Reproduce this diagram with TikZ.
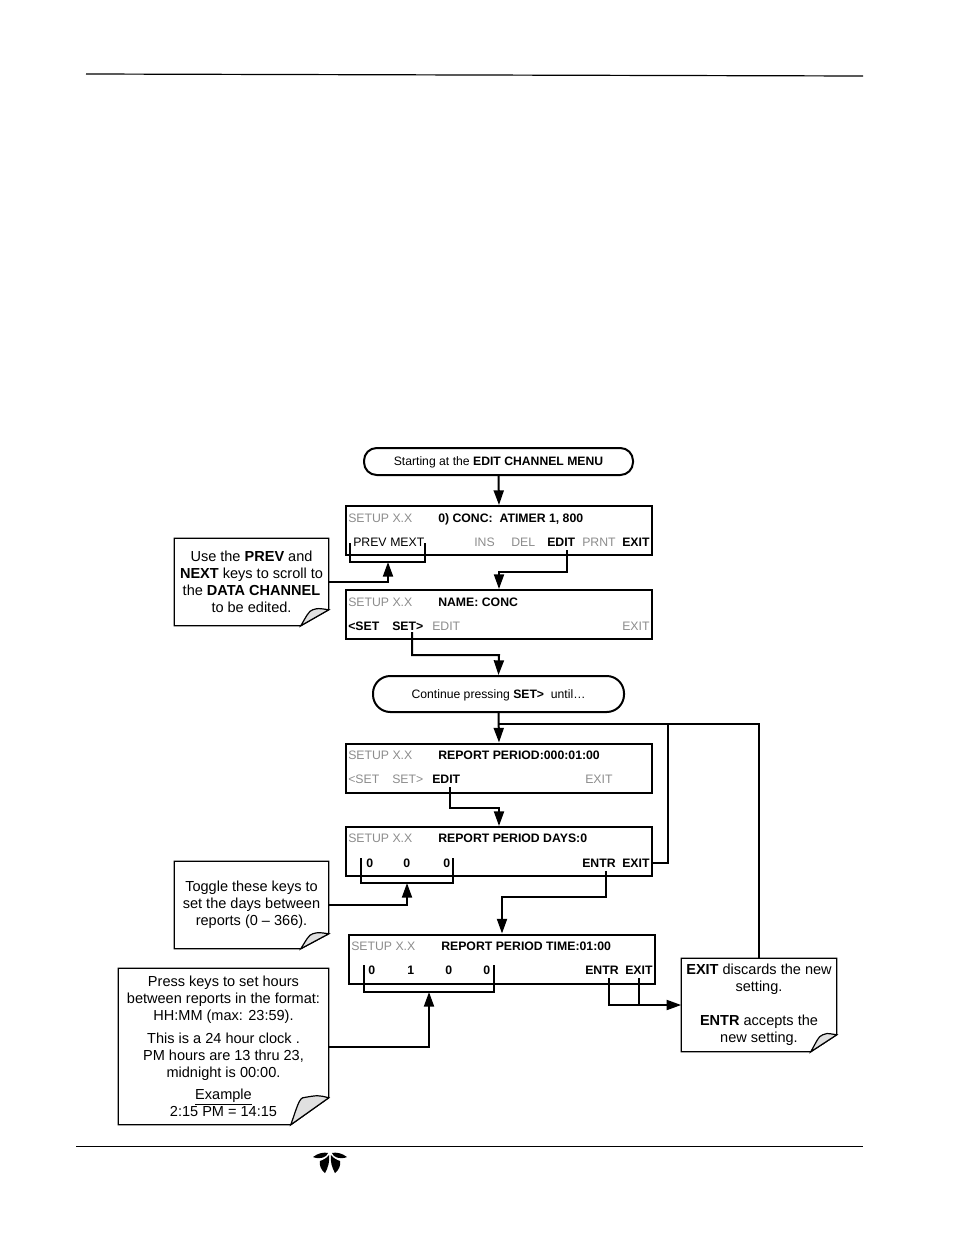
\documentclass[tikz,border=0pt]{standalone}
\usepackage{fontspec}
\setmainfont{Liberation Sans}
\usetikzlibrary{arrows.meta}
\definecolor{keygray}{gray}{0.55}
\definecolor{foldgray}{gray}{0.88}
\tikzset{
  lcdbox/.style={draw, line width=1.5pt, minimum width=229.5pt, minimum height=36.75pt, inner sep=0pt},
  startbox/.style={draw, line width=1.5pt, rounded corners=9.5pt, inner sep=0pt, text depth=0pt, font=\fontsize{9.15}{11}\selectfont},
  notebox/.style={inner sep=0pt, align=center, font=\fontsize{10.9}{12.75}\selectfont},
  keydim/.style={anchor=base west, inner sep=0pt, text=keygray, font=\fontsize{9.2}{11}\selectfont},
  keyon/.style={anchor=base west, inner sep=0pt, font=\fontsize{9.2}{11}\selectfont\bfseries},
  keyplain/.style={anchor=base west, inner sep=0pt, font=\fontsize{9.2}{11}\selectfont},
  flowline/.style={line width=1.5pt},
  flowarrow/.style={line width=1.5pt, -{Triangle[length=11pt,width=7.5pt]}},
  keybracket/.style={line width=1pt}
}
\newcommand{\notefold}[3]{
  \draw [line width=0.9pt] (#1.north west) -- (#1.north east) -- ([yshift=#3]#1.south east)
    -- ([xshift=-#2]#1.south east) -- (#1.south west) -- cycle;
  \draw [line width=0.9pt, fill=foldgray] ([xshift=-#2]#1.south east)
    .. controls ([xshift=-#2+4pt,yshift=#3*0.55]#1.south east) and ([xshift=-#2+6pt,yshift=#3*0.95]#1.south east)
    .. ([xshift=-#2+9pt,yshift=#3]#1.south east)
    .. controls ([xshift=-8pt,yshift=#3*1.1]#1.south east) .. ([yshift=#3]#1.south east) -- cycle;
}
\begin{document}
\begin{tikzpicture}[x=0.75pt,y=-0.75pt]
\useasboundingbox (0,0) rectangle (954,1235);

% page rules
\coordinate (ruleTopA) at (86,74);
\coordinate (ruleTopB) at (863,76);
\coordinate (ruleBotA) at (76,1146);
\coordinate (ruleBotB) at (863,1146);
\draw [line width=0.9pt] (ruleTopA) -- (ruleTopB);
\draw [line width=0.6pt] (ruleBotA) -- (ruleBotB);

% logo
\fill (313,1157) .. controls (318,1153) and (324,1152) .. (328,1153) .. controls (327,1157) and (320,1160) .. (313,1157) -- cycle;
\fill (347,1157) .. controls (342,1153) and (336,1152) .. (332,1153) .. controls (333,1157) and (340,1160) .. (347,1157) -- cycle;
\fill (320,1161) .. controls (323,1160) and (327,1158) .. (329,1155) .. controls (330,1161) and (328,1168) .. (325,1173) .. controls (321,1170) and (319,1165) .. (320,1161) -- cycle;
\fill (340,1161) .. controls (337,1160) and (333,1158) .. (331,1155) .. controls (330,1161) and (332,1168) .. (335,1173) .. controls (339,1170) and (341,1165) .. (340,1161) -- cycle;

% boxes
\node [startbox, minimum width=201.75pt, minimum height=20.25pt] (start) at (498.5,461.5) {Starting at the \textbf{EDIT CHANNEL MENU}};
\node [lcdbox] (lcdA) at (499,530.5) {};
\node [lcdbox] (lcdB) at (499,614.5) {};
\node [startbox, rounded corners=13pt, minimum width=188.25pt, minimum height=27pt] (cont) at (498.5,694) {Continue pressing \textbf{SET>} \ until…};
\node [lcdbox] (lcdC) at (499,768) {};
\node [lcdbox] (lcdD) at (499,851.5) {};
\node [lcdbox] (lcdE) at (502,959) {};

% display headers
\foreach \n/\x/\y in {A/348/522,B/348/606,C/348/759,D/348/842,E/351/950}
  \node [keydim] (setup\n) at (\x,\y) {SETUP X.X};
\node [keyon] (titleA) at (438,522) {0) CONC: \ ATIMER 1, 800};
\node [keyon] (titleB) at (438,606) {NAME: CONC};
\node [keyon] (titleC) at (438,759) {REPORT PERIOD:000:01:00};
\node [keyon] (titleD) at (438,842) {REPORT PERIOD DAYS:0};
\node [keyon] (titleE) at (441,950) {REPORT PERIOD TIME:01:00};

% keys
\node [keyplain] (prevA) at (353,546) {PREV};
\node [keyplain] (nextA) at (390,546) {MEXT};
\foreach \n/\x/\t in {insA/474/INS,delA/511/DEL,prntA/582/PRNT}
  \node [keydim] (\n) at (\x,546) {\t};
\node [keyon] (editA) at (547,546) {EDIT};
\node [keyon] (exitA) at (622,546) {EXIT};

\node [keyon] (lsetB) at (348,630) {<SET};
\node [keyon] (rsetB) at (392,630) {SET>};
\node [keydim] (editB) at (432,630) {EDIT};
\node [keydim] (exitB) at (622,630) {EXIT};

\node [keydim] (lsetC) at (348,783) {<SET};
\node [keydim] (rsetC) at (392,783) {SET>};
\node [keyon] (editC) at (432,783) {EDIT};
\node [keydim] (exitC) at (585,783) {EXIT};

\foreach \n/\x in {a/366,b/403,c/443}
  \node [keyon] (digitD\n) at (\x,867) {0};
\node [keyon] (entrD) at (582,867) {ENTR};
\node [keyon] (exitD) at (622,867) {EXIT};

\foreach \n/\x/\t in {a/368/0,b/407/1,c/445/0,d/483/0}
  \node [keyon] (digitE\n) at (\x,974) {\t};
\node [keyon] (entrE) at (585,974) {ENTR};
\node [keyon] (exitE) at (625,974) {EXIT};

% notes
\node [notebox, minimum width=115.5pt, minimum height=65.25pt] (noteA) at (251.5,582) {Use the \textbf{PREV} and\\\textbf{NEXT} keys to scroll to\\the \textbf{DATA CHANNEL}\\to be edited.};
\notefold{noteA}{21pt}{12pt}
\node [notebox, minimum width=115.5pt, minimum height=65.25pt] (noteB) at (251.5,905) {Toggle these keys to\\set the days between\\reports (0 – 366).};
\notefold{noteB}{21pt}{11.25pt}
\node [notebox, minimum width=157.5pt, minimum height=117pt] (noteC) at (223.5,1046.5) {Press keys to set hours\\between reports in the format:\\HH:MM (max: 23:59).\\[4pt]This is a 24 hour clock .\\PM hours are 13 thru 23,\\midnight is 00:00.\\[4pt]\underline{Example}\\2:15 PM = 14:15};
\notefold{noteC}{28.5pt}{20.25pt}
\node [notebox, minimum width=116.25pt, minimum height=69.75pt] (noteD) at (759,1005) {\textbf{EXIT} discards the new\\setting.\\[12.75pt]\textbf{ENTR} accepts the\\new setting.};
\notefold{noteD}{19.5pt}{12.75pt}

% key brackets
\coordinate (brackA) at (350,543);
\coordinate (brackAb) at (425,543);
\coordinate (brackD) at (361,858);
\coordinate (brackDb) at (453,858);
\coordinate (brackE) at (364,965);
\coordinate (brackEb) at (494,965);
\coordinate (lowA) at (350,562);
\coordinate (lowD) at (361,883);
\coordinate (lowE) at (364,992);
\draw [keybracket] (brackA) -- (lowA) -| (brackAb);
\draw [flowline] (brackD) -- (lowD) -| (brackDb);
\draw [flowline] (brackE) -- (lowE) -| (brackEb);

% connectors
\coordinate (tipA) at (388,562);
\coordinate (tipD) at (407,883);
\coordinate (tipE) at (429,992);
\draw [flowarrow] (noteA.east) -| (tipA);
\draw [flowarrow] (noteB.east) -| (tipD);
\draw [flowarrow] (noteC.east) -| (tipE);

\coordinate (fromEditA) at (567,550);
\coordinate (bendEditA) at (499,572);
\coordinate (fromSetB) at (412,632);
\coordinate (bendSetB) at (499,655);
\coordinate (fromEditC) at (450,787);
\coordinate (bendEditC) at (499,808);
\coordinate (fromEntrD) at (606,871);
\coordinate (bendEntrD) at (502,897);
\coordinate (fromEntrE) at (609,978);
\coordinate (fromExitE) at (639,978);
\coordinate (joinExitE) at (639,1005);
\coordinate (branchTop) at (499,724);
\coordinate (branchMid) at (668,724);
\coordinate (branchEnd) at (759,724);
\coordinate (fromExitD) at (652,863);

\draw [flowarrow] (start.south) -- (lcdA.north);
\draw [flowarrow] (fromEditA) |- (bendEditA) -- (lcdB.north);
\draw [flowarrow] (fromSetB) |- (bendSetB) -- (cont.north);
\draw [flowarrow] (cont.south) -- (lcdC.north);
\draw [flowarrow] (fromEditC) |- (bendEditC) -- (lcdD.north);
\draw [flowarrow] (fromEntrD) |- (bendEntrD) -- (lcdE.north);
\draw [flowarrow] (fromEntrE) |- (noteD.west);
\draw [flowline] (fromExitE) -- (joinExitE);
\draw [flowline] (branchTop) -- (branchEnd) -- (noteD.north);
\draw [flowline] (branchMid) |- (fromExitD);

\end{tikzpicture}
\end{document}
